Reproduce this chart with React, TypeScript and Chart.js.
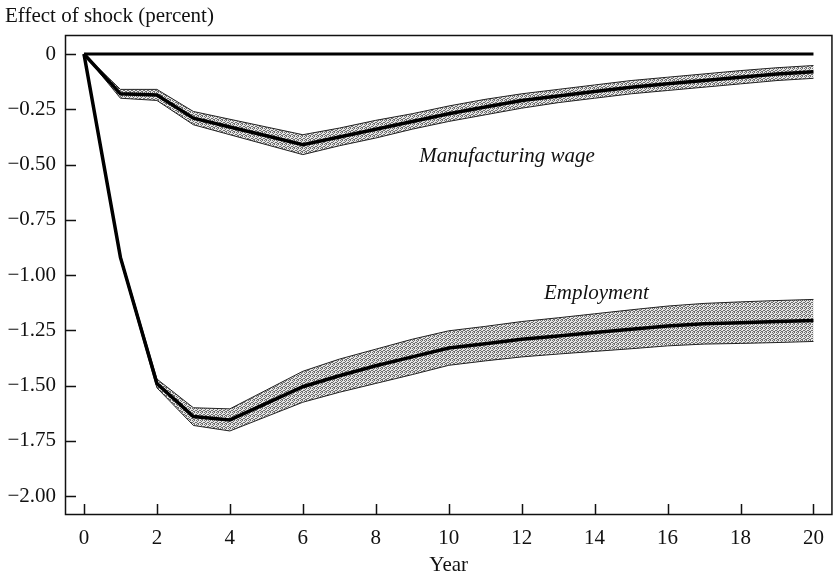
import React, { useEffect, useRef } from "react";
import { Chart, registerables } from "chart.js";

Chart.register(...registerables);

const YEARS = [0, 1, 2, 3, 4, 5, 6, 7, 8, 9, 10, 11, 12, 13, 14, 15, 16, 17, 18, 19, 20];
const X_TICKS = [0, 2, 4, 6, 8, 10, 12, 14, 16, 18, 20];
const Y_TICKS = [0, -0.25, -0.5, -0.75, -1, -1.25, -1.5, -1.75, -2];
const Y_TICK_LABELS = ["0", "\u22120.25", "\u22120.50", "\u22120.75", "\u22121.00", "\u22121.25", "\u22121.50", "\u22121.75", "\u22122.00"];

const ZERO_LINE = [0, 0, 0, 0, 0, 0, 0, 0, 0, 0, 0, 0, 0, 0, 0, 0, 0, 0, 0, 0, 0];

const WAGE = [0, -0.18, -0.185, -0.29, -0.33, -0.37, -0.41, -0.375, -0.34, -0.305, -0.27, -0.24, -0.21, -0.19, -0.17, -0.15, -0.135, -0.12, -0.105, -0.09, -0.08];
const WAGE_UPPER = [0, -0.16, -0.16, -0.26, -0.295, -0.33, -0.365, -0.335, -0.3, -0.27, -0.235, -0.205, -0.18, -0.16, -0.14, -0.12, -0.105, -0.09, -0.075, -0.062, -0.052];
const WAGE_LOWER = [0, -0.2, -0.21, -0.32, -0.365, -0.41, -0.455, -0.415, -0.38, -0.34, -0.305, -0.275, -0.245, -0.22, -0.2, -0.18, -0.165, -0.15, -0.135, -0.12, -0.11];

const EMP = [0, -0.92, -1.49, -1.64, -1.655, -1.58, -1.505, -1.455, -1.41, -1.37, -1.33, -1.31, -1.29, -1.275, -1.26, -1.245, -1.23, -1.22, -1.215, -1.21, -1.205];
const EMP_UPPER = [0, -0.91, -1.47, -1.6, -1.605, -1.52, -1.435, -1.38, -1.335, -1.29, -1.252, -1.232, -1.21, -1.193, -1.175, -1.157, -1.14, -1.128, -1.121, -1.115, -1.11];
const EMP_LOWER = [0, -0.93, -1.51, -1.68, -1.705, -1.64, -1.575, -1.53, -1.49, -1.45, -1.408, -1.388, -1.37, -1.357, -1.345, -1.333, -1.32, -1.312, -1.309, -1.305, -1.3];

const TITLE = "Effect of shock (percent)";
const X_TITLE = "Year";
const WAGE_LABEL = "Manufacturing wage";
const EMP_LABEL = "Employment";

const SERIF = '"Liberation Serif", "Times New Roman", serif';

function makePattern(): CanvasPattern | string {
  const c = document.createElement("canvas");
  c.width = 4;
  c.height = 4;
  const g = c.getContext("2d");
  if (!g) return "#bdbdbd";
  g.fillStyle = "#e6e6e6";
  g.fillRect(0, 0, 4, 4);
  g.fillStyle = "#6e6e6e";
  const dots = [[0, 0], [2, 0], [1, 1], [3, 2], [0, 2], [2, 3], [1, 3]];
  for (const [x, y] of dots) g.fillRect(x, y, 1, 1);
  const p = g.createPattern(c, "repeat");
  return p || "#bdbdbd";
}

const pts = (arr: number[]) => YEARS.map((x, i) => ({ x, y: arr[i] }));

const decorPlugin = {
  id: "decor",
  afterDraw(chart: any) {
    const { ctx, chartArea: a, scales } = chart;
    const xs = scales.x;
    const ys = scales.y;
    ctx.save();
    ctx.strokeStyle = "#111";
    ctx.lineWidth = 1.5;
    ctx.strokeRect(a.left + 0.5, a.top + 0.5, a.right - a.left - 1, a.bottom - a.top - 1);
    ctx.beginPath();
    for (const v of Y_TICKS) {
      const py = Math.round(ys.getPixelForValue(v)) + 0.5;
      ctx.moveTo(a.left, py);
      ctx.lineTo(a.left + 11, py);
    }
    for (const v of X_TICKS) {
      const px = Math.round(xs.getPixelForValue(v)) + 0.5;
      ctx.moveTo(px, a.bottom);
      ctx.lineTo(px, a.bottom - 11);
    }
    ctx.stroke();

    ctx.fillStyle = "#111";
    ctx.font = `21px ${SERIF}`;
    ctx.textAlign = "left";
    ctx.textBaseline = "alphabetic";
    ctx.fillText(TITLE, 5, 22);

    ctx.font = `italic 21px ${SERIF}`;
    ctx.textAlign = "center";
    ctx.textBaseline = "middle";
    ctx.fillText(WAGE_LABEL, xs.getPixelForValue(11.6), ys.getPixelForValue(-0.465));
    ctx.fillText(EMP_LABEL, xs.getPixelForValue(14.05), ys.getPixelForValue(-1.085));
    ctx.restore();
  },
};

export default function App() {
  const ref = useRef<HTMLCanvasElement | null>(null);

  useEffect(() => {
    document.body.style.margin = "0";
    const canvas = ref.current;
    if (!canvas) return;
    const pattern = makePattern();
    const band = (data: number[], fill: any) => ({
      data: pts(data),
      borderColor: "#222",
      borderWidth: 1,
      pointRadius: 0,
      tension: 0,
      fill,
      backgroundColor: pattern,
      order: 3,
    });
    const line = (data: number[], w: number, order: number) => ({
      data: pts(data),
      borderColor: "#000",
      borderWidth: w,
      pointRadius: 0,
      tension: 0,
      fill: false,
      order,
    });
    const chart = new Chart(canvas, {
      type: "line",
      data: {
        datasets: [
          line(ZERO_LINE, 3, 0),
          band(WAGE_UPPER, false),
          band(WAGE_LOWER, "-1"),
          line(WAGE, 3.5, 1),
          band(EMP_UPPER, false),
          band(EMP_LOWER, "-1"),
          line(EMP, 3.5, 1),
        ] as any,
      },
      options: {
        animation: false,
        responsive: false,
        layout: { padding: { top: 35, right: 1, left: 0, bottom: 0 } },
        plugins: { legend: { display: false }, tooltip: { enabled: false }, title: { display: false } },
        scales: {
          x: {
            type: "linear",
            min: -0.52,
            max: 20.52,
            afterBuildTicks: (s: any) => {
              s.ticks = X_TICKS.map((v) => ({ value: v }));
            },
            afterFit: (s: any) => {
              s.height = 61;
            },
            grid: { display: false, drawTicks: false },
            border: { display: false },
            ticks: {
              autoSkip: false,
              maxRotation: 0,
              padding: 11,
              color: "#111",
              font: { family: SERIF, size: 21 },
              callback: (v: any) => String(v),
            },
            title: {
              display: true,
              text: X_TITLE,
              color: "#111",
              font: { family: SERIF, size: 21 },
              padding: { top: 0, bottom: -2 },
            },
          },
          y: {
            type: "linear",
            min: -2.085,
            max: 0.086,
            afterBuildTicks: (s: any) => {
              s.ticks = Y_TICKS.map((v) => ({ value: v }));
            },
            afterFit: (s: any) => {
              s.width = 65;
            },
            grid: { display: false, drawTicks: false },
            border: { display: false },
            ticks: {
              autoSkip: false,
              padding: 9,
              color: "#111",
              font: { family: SERIF, size: 21 },
              callback: (_v: any, i: number) => Y_TICK_LABELS[i],
            },
          },
        },
      },
      plugins: [decorPlugin],
    });
    return () => chart.destroy();
  }, []);

  return (
    <div style={{ position: "absolute", left: 0, top: 0, width: 835, height: 576, background: "#fff" }}>
      <canvas ref={ref} width={835} height={576} />
    </div>
  );
}
